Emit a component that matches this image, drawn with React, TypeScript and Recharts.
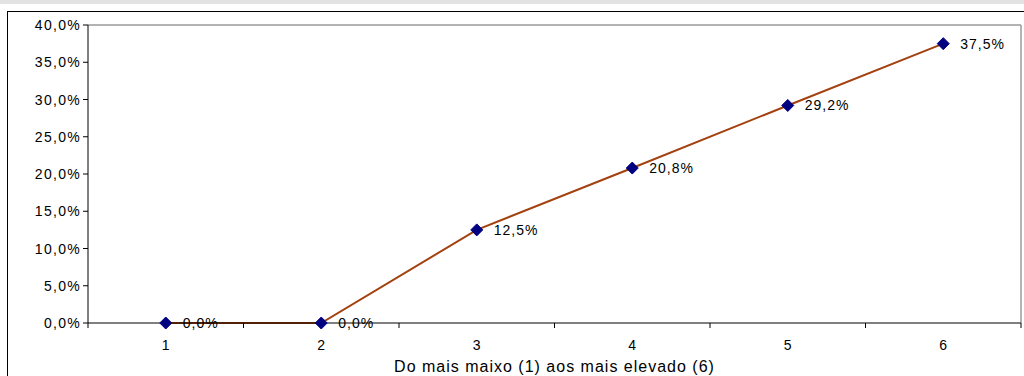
import React from "react"
import { LineChart, Line, XAxis, YAxis, ReferenceLine, LabelList } from "recharts"

const categories = [1, 2, 3, 4, 5, 6]
const shares = [0, 0, 12.5, 20.8, 29.2, 37.5]
const yTicks = [0, 5, 10, 15, 20, 25, 30, 35, 40]
const xTicks = [0.5, 1, 1.5, 2, 2.5, 3, 3.5, 4, 4.5, 5, 5.5, 6, 6.5]
const axisTitle = "Do mais maixo (1) aos mais elevado (6)"

const data = categories.map((c, i) => ({ cat: c, value: shares[i] }))

const font = "'Liberation Sans', Arial, sans-serif"
const pct = (v: number) => v.toFixed(1).replace(".", ",") + "%"

function XTick(props: any) {
  const { x, y, payload } = props
  const v = payload.value
  if (!Number.isInteger(v)) {
    return <line x1={x} x2={x} y1={y} y2={y + 5} stroke="#000" strokeWidth={1} />
  }
  return (
    <text x={x} y={y + 27} textAnchor="middle" fontSize={14} fontFamily={font} fill="#000">
      {v}
    </text>
  )
}

function YTick(props: any) {
  const { x, y, payload } = props
  return (
    <text x={x} y={y + 5} textAnchor="end" fontSize={14} fontFamily={font} fill="#000" letterSpacing={1.3}>
      {pct(payload.value)}
    </text>
  )
}

function Diamond(props: any) {
  const { cx, cy } = props
  if (cx == null || cy == null) return null
  const r = 6
  return (
    <polygon
      points={`${cx},${cy - r} ${cx + r},${cy} ${cx},${cy + r} ${cx - r},${cy}`}
      fill="#000080"
      stroke="#000080"
    />
  )
}

function PointLabel(props: any) {
  const { x, y, value } = props
  return (
    <text x={x + 17} y={y + 5} fontSize={14} fontFamily={font} fill="#000" letterSpacing={1}>
      {pct(value)}
    </text>
  )
}

export default function App() {
  return (
    <div
      style={{
        position: "absolute",
        left: 0,
        top: 0,
        width: 1024,
        height: 376,
        overflow: "hidden",
        background: "#fff",
      }}
    >
      <div style={{ position: "absolute", left: 0, top: 0, width: 1024, height: 4, background: "#e2e2e2" }} />
      <div
        style={{
          position: "absolute",
          left: 7,
          top: 11,
          width: 1100,
          height: 420,
          border: "1px solid #000",
        }}
      />
      <div style={{ position: "absolute", left: 0, top: 0 }}>
        <LineChart width={1024} height={376} data={data} margin={{ top: 25, right: 3, bottom: 0, left: 0 }}>
          <ReferenceLine y={40} stroke="#9a9a9a" strokeWidth={1.5} />
          <ReferenceLine x={6.5} stroke="#9a9a9a" strokeWidth={1.5} />
          <XAxis
            dataKey="cat"
            type="number"
            domain={[0.5, 6.5]}
            ticks={xTicks}
            interval={0}
            height={53}
            tickSize={0}
            tickMargin={0}
            tickLine={false}
            tick={<XTick />}
            axisLine={{ stroke: "#000", strokeWidth: 1 }}
            label={{
              value: axisTitle,
              position: "insideBottom",
              offset: 4,
              fontSize: 16,
              fontFamily: font,
              fill: "#000",
              letterSpacing: 1,
            }}
          />
          <YAxis
            type="number"
            domain={[0, 40]}
            ticks={yTicks}
            interval={0}
            width={88}
            tickSize={5}
            tickMargin={2}
            tick={<YTick />}
            tickLine={{ stroke: "#000" }}
            axisLine={{ stroke: "#000", strokeWidth: 1 }}
          />
          <Line
            dataKey="value"
            stroke="#a3410f"
            strokeWidth={2}
            dot={<Diamond />}
            activeDot={false}
            isAnimationActive={false}
          >
            <LabelList dataKey="value" content={<PointLabel />} />
          </Line>
        </LineChart>
      </div>
    </div>
  )
}
